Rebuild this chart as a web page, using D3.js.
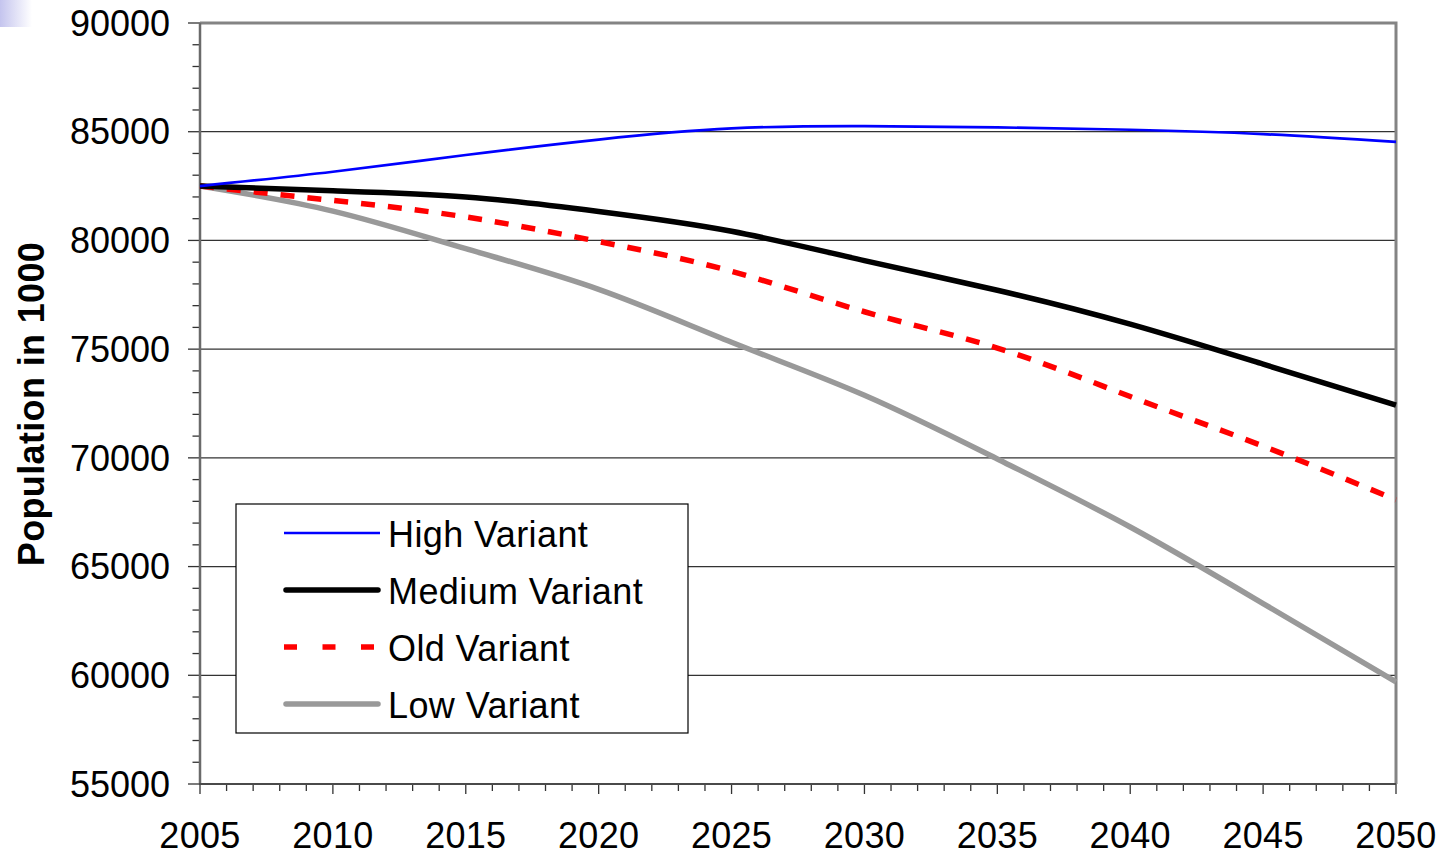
<!DOCTYPE html>
<html>
<head>
<meta charset="utf-8">
<script src="https://cdn.jsdelivr.net/npm/d3@7"></script>
<style>
  html, body { margin: 0; padding: 0; background: #fff; }
  svg { display: block; font-family: "Liberation Sans", Arial, sans-serif; }
</style>
</head>
<body>
<svg id="chart" width="1442" height="855"></svg>
<script>
// Population projection, thousands of persons
const years = [2005, 2010, 2015, 2020, 2025, 2030, 2035, 2040, 2045, 2050];
const highVariant   = [82500, 83160, 83930, 84640, 85150, 85260, 85200, 85090, 84890, 84530];
const mediumVariant = [82500, 82280, 82000, 81330, 80420, 79070, 77710, 76150, 74310, 72430];
const oldVariant    = [82500, 81840, 81080, 79950, 78580, 76720, 75050, 72820, 70540, 68070];
const lowVariant    = [82500, 81350, 79620, 77750, 75320, 72880, 69950, 66820, 63300, 59700];
const seriesNames = ["High Variant", "Medium Variant", "Old Variant", "Low Variant"];
const yTickValues = [55000, 60000, 65000, 70000, 75000, 80000, 85000, 90000];
const xTickValues = [2005, 2010, 2015, 2020, 2025, 2030, 2035, 2040, 2045, 2050];
const yTitle = "Population in 1000";

const styles = [
  { color: "#0000ff", width: 2.7, dash: null, legendDash: null, cap: "butt" },
  { color: "#000000", width: 5.5, dash: null, legendDash: null, cap: "round" },
  { color: "#ff0000", width: 5.5, dash: "14,13", legendDash: "13,25.5", cap: "butt" },
  { color: "#999999", width: 5.5, dash: null, legendDash: null, cap: "round" }
];
const seriesValues = [highVariant, mediumVariant, oldVariant, lowVariant];

const svg = d3.select("#chart");
const plotLeft = 200, plotRight = 1396, plotTop = 23, plotBottom = 784;

const x = d3.scaleLinear().domain([2005, 2050]).range([plotLeft, plotRight]);
const y = d3.scaleLinear().domain([55000, 90000]).range([plotBottom, plotTop]);

// small shaded corner mark
const defs = svg.append("defs");
const grad = defs.append("linearGradient").attr("id", "corner").attr("x1", 0).attr("x2", 1).attr("y1", 0).attr("y2", 0);
grad.append("stop").attr("offset", 0).attr("stop-color", "#c4c4ee");
grad.append("stop").attr("offset", 1).attr("stop-color", "#ffffff");
svg.append("rect").attr("x", 0).attr("y", 0).attr("width", 32).attr("height", 27).attr("fill", "url(#corner)");

// horizontal gridlines
svg.append("g")
  .selectAll("line")
  .data(yTickValues.filter(v => v > 55000 && v < 90000))
  .join("line")
  .attr("x1", plotLeft).attr("x2", plotRight)
  .attr("y1", d => y(d)).attr("y2", d => y(d))
  .attr("stroke", "#333").attr("stroke-width", 1.2);

// plot frame (top and right edges)
svg.append("path")
  .attr("d", `M${plotLeft},${plotTop}H${plotRight}V${plotBottom}`)
  .attr("fill", "none").attr("stroke", "#848484").attr("stroke-width", 3);

// y axis with minor ticks every 1000
const yMinor = d3.range(55000, 90001, 1000);
const yAxis = svg.append("g");
yAxis.selectAll("line.tick")
  .data(yMinor)
  .join("line")
  .attr("x1", d => plotLeft - (d % 5000 === 0 ? 12 : 7.5)).attr("x2", plotLeft)
  .attr("y1", d => y(d)).attr("y2", d => y(d))
  .attr("stroke", "#333").attr("stroke-width", 1.3);
yAxis.append("line")
  .attr("x1", plotLeft).attr("x2", plotLeft).attr("y1", plotTop).attr("y2", plotBottom + 1)
  .attr("stroke", "#6a6a6a").attr("stroke-width", 2.5);
yAxis.selectAll("text")
  .data(yTickValues)
  .join("text")
  .attr("x", plotLeft - 30).attr("y", d => y(d))
  .attr("dy", "0.355em")
  .attr("text-anchor", "end")
  .attr("font-size", 36)
  .attr("fill", "#000")
  .text(d => d);

// x axis with a tick every year
const xMinor = d3.range(2005, 2051, 1);
const xAxis = svg.append("g");
xAxis.selectAll("line.tick")
  .data(xMinor)
  .join("line")
  .attr("x1", d => x(d)).attr("x2", d => x(d))
  .attr("y1", plotBottom).attr("y2", d => plotBottom + (d % 5 === 0 ? 10 : 7))
  .attr("stroke", "#333").attr("stroke-width", 1.3);
xAxis.append("line")
  .attr("x1", plotLeft - 1).attr("x2", plotRight).attr("y1", plotBottom).attr("y2", plotBottom)
  .attr("stroke", "#4a4a4a").attr("stroke-width", 2.2);
xAxis.selectAll("text")
  .data(xTickValues)
  .join("text")
  .attr("x", d => x(d)).attr("y", 848)
  .attr("text-anchor", "middle")
  .attr("font-size", 36)
  .attr("letter-spacing", 0.3)
  .attr("fill", "#000")
  .text(d => d);

// y axis title
svg.append("text")
  .attr("transform", `translate(44,404) rotate(-90)`)
  .attr("text-anchor", "middle")
  .attr("font-size", 36)
  .attr("font-weight", "bold")
  .attr("letter-spacing", 0.35)
  .attr("fill", "#000")
  .text(yTitle);

// series lines
const line = d3.line()
  .x((d, i) => x(years[i]))
  .y(d => y(d))
  .curve(d3.curveNatural);

const drawOrder = [3, 2, 1, 0];
svg.append("g")
  .selectAll("path")
  .data(drawOrder)
  .join("path")
  .attr("d", i => line(seriesValues[i]))
  .attr("fill", "none")
  .attr("stroke", i => styles[i].color)
  .attr("stroke-width", i => styles[i].width)
  .attr("stroke-dasharray", i => styles[i].dash)
  .attr("stroke-linejoin", "round");

// legend
const legend = svg.append("g");
legend.append("rect")
  .attr("x", 236).attr("y", 504).attr("width", 452).attr("height", 229)
  .attr("fill", "#fff").attr("stroke", "#000").attr("stroke-width", 1.2);
const rowY = [533, 590, 647, 704];
const items = legend.selectAll("g.item")
  .data(seriesNames)
  .join("g");
items.append("line")
  .attr("x1", (d, i) => styles[i].cap === "round" ? 286 : 284)
  .attr("x2", (d, i) => styles[i].cap === "round" ? 378 : 380)
  .attr("y1", (d, i) => rowY[i]).attr("y2", (d, i) => rowY[i])
  .attr("stroke", (d, i) => styles[i].color)
  .attr("stroke-width", (d, i) => styles[i].width)
  .attr("stroke-linecap", (d, i) => styles[i].cap)
  .attr("stroke-dasharray", (d, i) => styles[i].legendDash);
items.append("text")
  .attr("x", 388).attr("y", (d, i) => rowY[i] + 14)
  .attr("font-size", 36)
  .attr("letter-spacing", 0.4)
  .attr("fill", "#000")
  .text(d => d);
</script>
</body>
</html>
